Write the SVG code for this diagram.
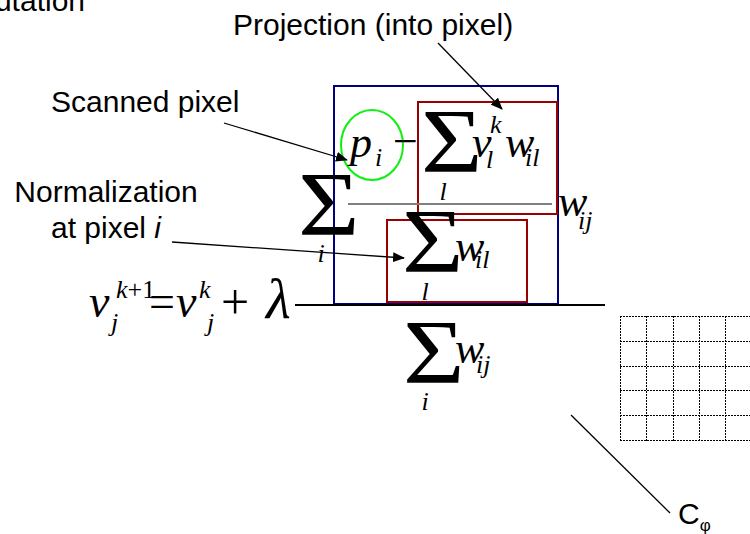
<svg xmlns="http://www.w3.org/2000/svg" width="750" height="534" viewBox="0 0 750 534">
<style>
.lbl{font-family:"Liberation Sans",Arial,sans-serif;font-size:30px;fill:#000}
.m{font-family:"Liberation Serif","Times New Roman",serif;font-size:44px;fill:#000}
.mi{font-family:"Liberation Serif","Times New Roman",serif;font-size:44px;font-style:italic;fill:#000}
.s{font-family:"Liberation Serif","Times New Roman",serif;font-size:26px;font-style:italic;fill:#000}
.su{font-family:"Liberation Serif","Times New Roman",serif;font-size:26px;fill:#000}
.sig{font-family:"Liberation Serif","Times New Roman",serif;font-size:92px;fill:#000}
.conn{stroke:#000;stroke-width:1.3;fill:none}
.grid{stroke:#000;stroke-width:1;stroke-dasharray:2 1;fill:none}
</style>
<defs>
<marker id="ah" markerUnits="userSpaceOnUse" markerWidth="12" markerHeight="10" refX="11" refY="5" orient="auto">
<path d="M0,0 L12,5 L0,10 Z" fill="#000"/>
</marker>
</defs>

<g id="label-computation"><text class="lbl" x="85" y="11" text-anchor="end">utation</text></g>
<g id="label-projection"><text class="lbl" x="233" y="35">Projection (into pixel)</text></g>
<g id="label-scanned"><text class="lbl" x="51" y="112">Scanned pixel</text></g>
<g id="label-normalization">
<text class="lbl" x="106" y="202" text-anchor="middle">Normalization</text>
<text class="lbl" x="106" y="238" text-anchor="middle">at pixel <tspan font-style="italic">i</tspan></text>
</g>

<g id="box-outer"><rect x="334" y="86" width="224" height="218" fill="none" stroke="#000080" stroke-width="2"/></g>
<g id="box-projection"><rect x="418" y="102" width="139" height="112" fill="none" stroke="#990000" stroke-width="2"/></g>
<g id="box-normalization"><rect x="387" y="220" width="140" height="82" fill="none" stroke="#990000" stroke-width="2"/></g>
<g id="circle-pixel"><ellipse cx="372" cy="145" rx="31" ry="35" fill="none" stroke="#11ee11" stroke-width="2"/></g>

<g id="equation-main">
<text class="mi" x="89" y="317" style="font-size:46px">v</text>
<text class="s" x="116" y="298">k<tspan class="su" font-style="normal">+1</tspan></text>
<text class="s" x="111" y="331">j</text>
<text class="m" x="149" y="317" style="font-size:46px">=</text>
<text class="mi" x="176" y="317" style="font-size:46px">v</text>
<text class="s" x="199" y="298">k</text>
<text class="s" x="207" y="331">j</text>
<text class="m" x="221" y="319" style="font-size:50px">+</text>
<text class="mi" x="266" y="318" style="font-size:57px">λ</text>
<line x1="295" y1="305" x2="605" y2="305" stroke="#000" stroke-width="2"/>
</g>

<g id="equation-numerator">
<text class="sig" transform="translate(298,235) scale(1.15,1)">Σ</text>
<text class="s" x="321" y="262" text-anchor="middle">i</text>
<text class="mi" x="350" y="157">p</text>
<text class="s" x="375" y="166">i</text>
<text class="m" x="393" y="156">−</text>
<text class="sig" transform="translate(421,172) scale(1.15,1)">Σ</text>
<text class="s" x="443" y="200" text-anchor="middle">l</text>
<text class="mi" x="472" y="157">v</text>
<text class="s" x="490" y="133">k</text>
<text class="s" x="486" y="168">l</text>
<text class="mi" x="505" y="157">w</text>
<text class="s" x="525" y="166">il</text>
<line x1="348" y1="204" x2="552" y2="204" stroke="#808080" stroke-width="2"/>
<text class="mi" x="558" y="216">w</text>
<text class="s" x="578" y="229">ij</text>
<text class="sig" transform="translate(402,272) scale(1.15,1)">Σ</text>
<text class="s" x="425" y="300" text-anchor="middle">l</text>
<text class="mi" x="455" y="261">w</text>
<text class="s" x="475" y="268">il</text>
</g>

<g id="equation-denominator">
<text class="sig" transform="translate(403,383) scale(1.15,1)">Σ</text>
<text class="s" x="425" y="410" text-anchor="middle">i</text>
<text class="mi" x="455" y="363">w</text>
<text class="s" x="476" y="373">ij</text>
</g>

<g id="grid-c-phi" shape-rendering="crispEdges">
<path class="grid" d="M620,316.5 H752 M620,341.5 H752 M620,366.5 H752 M620,390.5 H752 M620,415.5 H752 M620,440.5 H752 M620.5,316 V441 M646.5,316 V441 M673.5,316 V441 M699.5,316 V441 M725.5,316 V441"/>
</g>
<g id="label-cphi"><text class="lbl" x="678" y="524">C<tspan font-size="17" dy="7">φ</tspan></text></g>

<g id="connectors">
<line class="conn" x1="438" y1="43" x2="502" y2="109" marker-end="url(#ah)"/>
<line class="conn" x1="224" y1="123" x2="347" y2="160" marker-end="url(#ah)"/>
<line class="conn" x1="172" y1="242" x2="404" y2="258" marker-end="url(#ah)"/>
<line class="conn" x1="571" y1="415" x2="670" y2="513"/>
</g>
</svg>
